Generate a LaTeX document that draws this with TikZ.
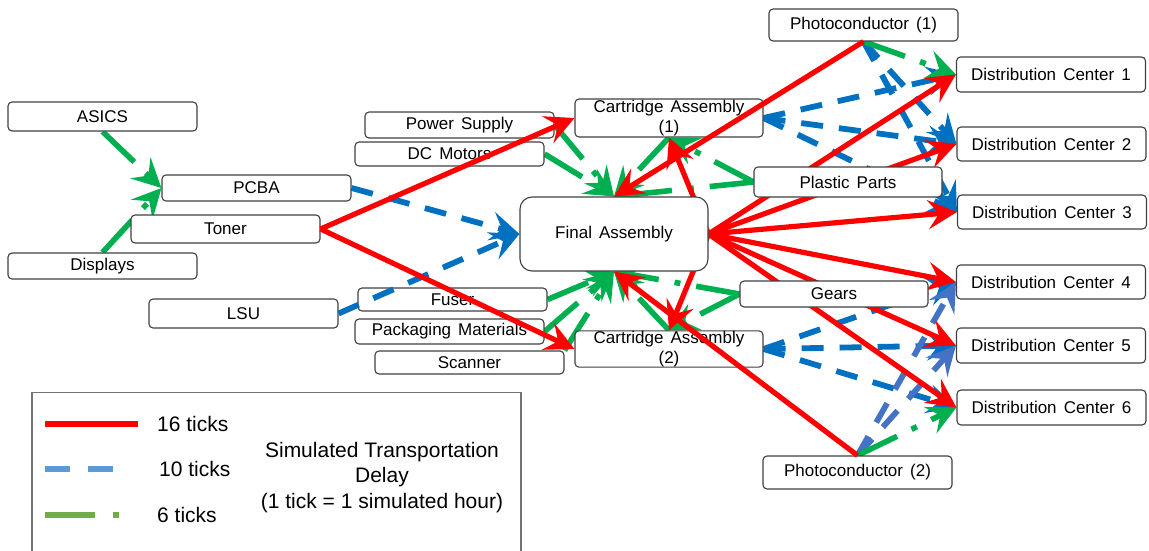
\documentclass[tikz,border=0pt]{standalone}
\usepackage{fontspec}
\setmainfont{Liberation Sans}[WordSpace=1.5]
\newfontfamily\legfont{Liberation Sans}
\usetikzlibrary{arrows.meta}
\pgfdeclarelayer{edgesbg}
\pgfdeclarelayer{edgesfg}
\pgfsetlayers{edgesbg,main,edgesfg}
\definecolor{cred}{HTML}{FF0000}
\definecolor{cblue}{HTML}{0070C0}
\definecolor{clblue}{HTML}{4472C4}
\definecolor{cgreen}{HTML}{00B050}
\definecolor{legblue}{HTML}{5B9BD5}
\definecolor{leggreen}{HTML}{70AD47}
\definecolor{boxline}{HTML}{404040}
\begin{document}
\begin{tikzpicture}[x=1pt,y=-1pt,
  box/.style={draw=boxline, line width=1.1pt, rounded corners=4pt, fill=white,
    minimum width=189pt, inner sep=0pt, font=\fontsize{17}{20.5}\selectfont, align=center},
  ah/.style={-{Stealth[length=29pt,width=29pt,inset=11pt]}},
  r16/.style={ah, draw=cred, line width=5.2pt},
  b10/.style={ah, draw=cblue, line width=5.8pt, dash pattern=on 22pt off 16pt},
  lb10/.style={b10, draw=clblue},
  g6/.style={ah, draw=cgreen, line width=5.6pt, dash pattern=on 44pt off 16pt on 6pt off 16pt},
  legtext/.style={font=\legfont\fontsize{21}{25.5}\selectfont, inner sep=0pt},
]
\useasboundingbox (0,0) rectangle (1149,551);

% nodes
\node[box, minimum height=32pt] (pc1) at (863.5,25) {Photoconductor (1)};
\node[box, minimum height=35pt] (dc1) at (1051,74.5) {Distribution Center 1};
\node[box, minimum height=34pt] (dc2) at (1051.5,144) {Distribution Center 2};
\node[box, minimum height=34pt] (dc3) at (1052,212) {Distribution Center 3};
\node[box, minimum height=34pt] (dc4) at (1051,282) {Distribution Center 4};
\node[box, minimum height=35pt] (dc5) at (1051,345.5) {Distribution Center 5};
\node[box, minimum height=35pt] (dc6) at (1051.5,407.5) {Distribution Center 6};
\node[box, minimum height=33pt] (pc2) at (857.5,472.5) {Photoconductor (2)};
\node[box, minimum height=38pt, minimum width=188pt] (ca1) at (669,118) {Cartridge Assembly\\(1)};
\node[box, minimum height=30pt, minimum width=188pt] (pp) at (848,182) {Plastic Parts};
\node[box, minimum height=74pt, minimum width=188pt, rounded corners=12pt] (fa) at (614,234) {Final Assembly};
\node[box, minimum height=26pt, minimum width=188pt] (gears) at (834,294) {Gears};
\node[box, minimum height=36pt, minimum width=188pt] (ca2) at (669,349) {Cartridge Assembly\\(2)};
\node[box, minimum height=29pt] (asics) at (102.5,116.5) {ASICS};
\node[box, minimum height=26pt] (pcba) at (256.5,188) {PCBA};
\node[box, minimum height=28pt] (toner) at (225.5,229) {Toner};
\node[box, minimum height=26pt] (displays) at (102.5,266) {Displays};
\node[box, minimum height=29pt] (lsu) at (243.5,313.5) {LSU};
\node[box, minimum height=26pt] (psupply) at (459.5,125) {Power Supply};
\node[box, minimum height=24pt] (dcmotors) at (449.5,154) {DC Motors};
\node[box, minimum height=23pt] (fuser) at (452.5,299.5) {Fuser};
\node[box, minimum height=25pt] (packmat) at (449.5,331.5) {Packaging Materials};
\node[box, minimum height=23pt] (scanner) at (469.5,362.5) {Scanner};

% edges behind the boxes
\begin{pgfonlayer}{edgesbg}
  % blue, 10 ticks
  \draw[b10] (pcba.east) -- (fa.west);
  \draw[b10] (ca1.east) -- (dc1.west);
  \draw[b10] (ca1.east) -- (dc2.west);
  \draw[b10] (ca1.east) -- (dc3.west);
  \draw[b10] (ca2.east) -- (dc4.west);
  \draw[b10] (ca2.east) -- (dc5.west);
  \draw[b10] (ca2.east) -- (dc6.west);
  \draw[b10] (pc1.south) -- (dc2.west);
  \draw[b10] (pc1.south) -- (dc3.west);
  \draw[lb10] (pc2.north) -- (dc4.west);
  \draw[lb10] (pc2.north) -- (dc5.west);
  % green, 6 ticks
  \draw[g6] (asics.south) -- (pcba.west);
  \draw[g6] (displays.north) -- (pcba.west);
  \draw[g6] (psupply.east) -- (fa.north);
  \draw[g6] (dcmotors.east) -- (fa.north);
  \draw[g6] (pp.west) -- (fa.north);
  \draw[g6] (pp.west) -- (ca1.south);
  \draw[g6] (ca1.south) -- (fa.north);
  \draw[g6] (fuser.east) -- (fa.south);
  \draw[g6] (packmat.east) -- (fa.south);
  \draw[g6] (scanner.north east) -- (fa.south);
  \draw[g6] (gears.west) -- (fa.south);
  \draw[g6] (gears.west) -- (ca2.north);
  \draw[g6] (ca2.north) -- (fa.south);
  \draw[g6] (pc1.south) -- (dc1.west);
  \draw[g6] (pc2.north) -- (dc6.west);
  % red, 16 ticks
  \draw[r16] (fa.east) -- (ca1.south);
  \draw[r16] (fa.east) -- (ca2.north);
  \draw[r16] (fa.east) -- (dc1.west);
  \draw[r16] (fa.east) -- (dc2.west);
  \draw[r16] (fa.east) -- (dc3.west);
  \draw[r16] (fa.east) -- (dc4.west);
  \draw[r16] (fa.east) -- (dc5.west);
  \draw[r16] (fa.east) -- (dc6.west);
\end{pgfonlayer}

% edges over the boxes
\begin{pgfonlayer}{edgesfg}
  \draw[b10] (lsu.east) -- (fa.west);
  \draw[r16] (toner.east) -- (ca1.west);
  \draw[r16] (toner.east) -- (ca2.west);
  \draw[r16] (pc1.south) -- (fa.north);
  \draw[r16] (pc2.north) -- (fa.south);
\end{pgfonlayer}

% legend
\draw[draw=black!55, line width=1.2pt] (32,551) -- (32,392.5) -- (521,392.5) -- (521,551);
\draw[cred, line width=6pt] (45,424) -- (138,424);
\draw[legblue, line width=6pt, dash pattern=on 25pt off 18pt] (45,469) -- (113,469);
\draw[leggreen, line width=6pt, dash pattern=on 50pt off 18pt on 6pt off 100pt] (45,515) -- (119,515);
\node[legtext, anchor=west] (l16) at (157,424) {16 ticks};
\node[legtext, anchor=west] (l10) at (159,469) {10 ticks};
\node[legtext, anchor=west] (l6) at (157,515) {6 ticks};
\node[legtext, align=center] (legtitle) at (382,477.5) {Simulated Transportation\\Delay\\(1 tick = 1 simulated hour)};
\end{tikzpicture}
\end{document}
